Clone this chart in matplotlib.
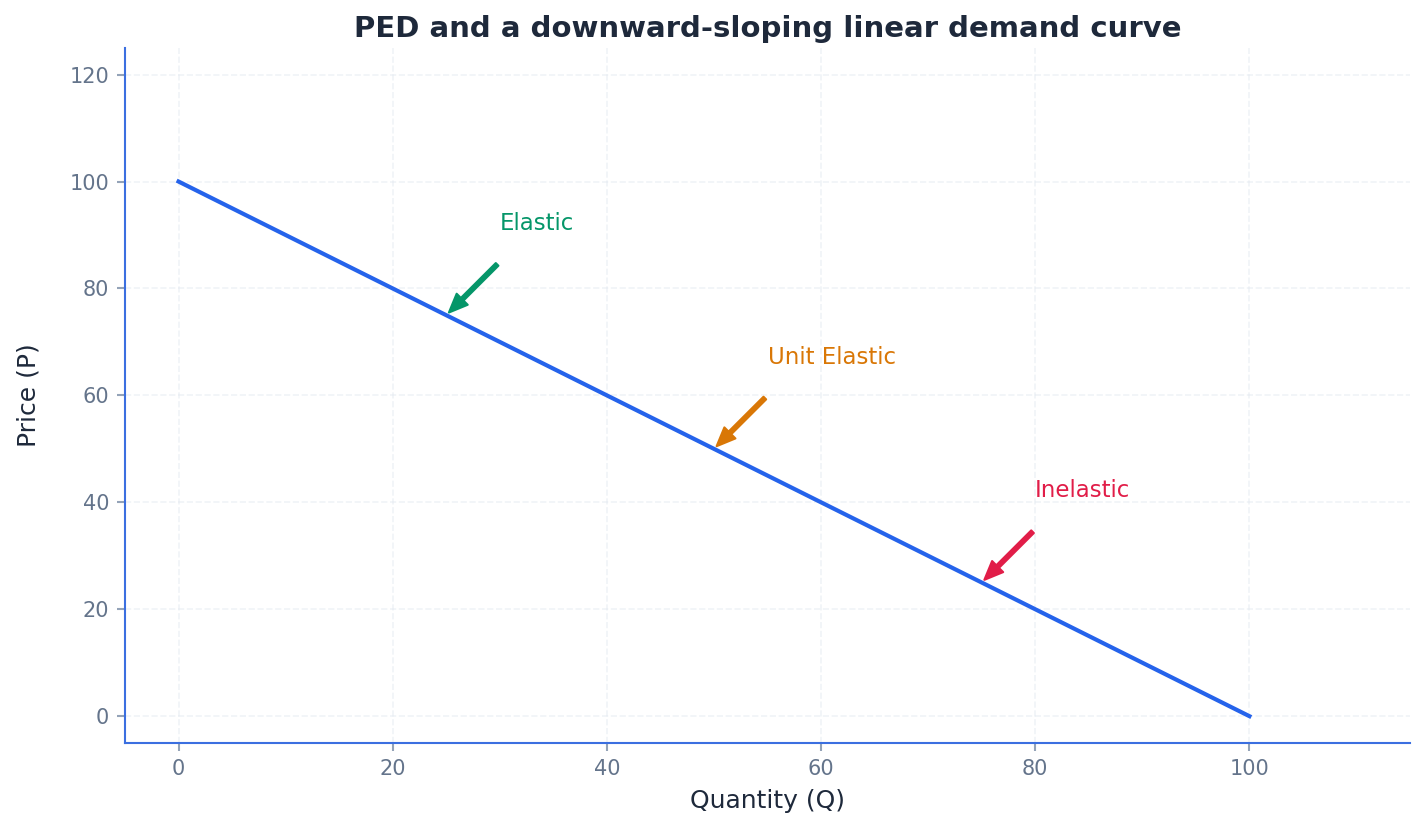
import matplotlib
matplotlib.use("Agg")
from matplotlib import pyplot as plt

plt.rcParams["font.family"] = ["DejaVu Sans"]

# demand curve P = 100 - Q
quantity = [0, 100]
price = [100, 0]

# annotated points on the curve
point_labels = ["Elastic", "Unit Elastic", "Inelastic"]
point_q = [25, 50, 75]
point_p = [75, 50, 25]
point_colors = ["#059669", "#d97706", "#e11d48"]

fig, ax = plt.subplots(figsize=(9.5, 5.5), dpi=150)
fig.subplots_adjust(left=0.0877, right=0.9895, top=0.942, bottom=0.0995)

ax.plot(quantity, price, color="#2563eb", linewidth=2, zorder=3)

for label, q, p, c in zip(point_labels, point_q, point_p, point_colors):
    ax.annotate("", xy=(q, p), xytext=(q + 5, p + 10),
                arrowprops=dict(facecolor=c, edgecolor=c, width=1.8,
                                headwidth=7.5, headlength=9, shrink=0.05))
    ax.text(q + 5, p + 15, label, color=c, fontsize=11, ha="left", va="bottom")

ax.set_xlim(-5, 115)
ax.set_ylim(-5, 125)
ax.set_xticks([0, 20, 40, 60, 80, 100])
ax.set_yticks([0, 20, 40, 60, 80, 100, 120])

ax.grid(True, linestyle="--", color="#e2e8f0", alpha=0.5, linewidth=0.8)
ax.set_axisbelow(True)

for side in ["top", "right"]:
    ax.spines[side].set_visible(False)
for side in ["left", "bottom"]:
    ax.spines[side].set_color("#3b6fe0")
    ax.spines[side].set_linewidth(1.0)

ax.tick_params(colors="#64748b", labelsize=10, length=4, width=1.0)
ax.tick_params(axis="both", color="#94a3b8")

ax.set_xlabel("Quantity (Q)", fontsize=12, color="#1e293b", labelpad=5)
ax.set_ylabel("Price (P)", fontsize=12, color="#1e293b", labelpad=14)
ax.set_title("PED and a downward-sloping linear demand curve", fontsize=14,
             fontweight="bold", color="#1e293b", pad=5)

fig.savefig("out.png", dpi=150, facecolor="white")
